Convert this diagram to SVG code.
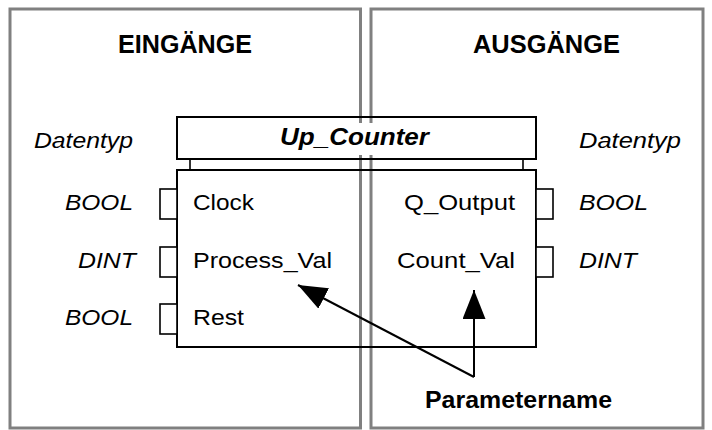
<svg xmlns="http://www.w3.org/2000/svg" width="712" height="430" viewBox="0 0 712 430">
  <style>
    .panel { fill: none; stroke: #808080; stroke-width: 3; }
    .box { fill: none; stroke: #000; stroke-width: 2; }
    .pin { fill: #fff; stroke: #000; stroke-width: 1.6; }
    .tick { stroke: #000; stroke-width: 1.6; }
    text { font-family: "Liberation Sans", Arial, Helvetica, sans-serif; fill: #000; }
    .head { font-size: 25px; font-weight: bold; }
    .type { font-size: 22.5px; font-style: italic; }
    .param { font-size: 22.5px; }
    .title { font-size: 24px; font-weight: bold; font-style: italic; }
    .label { font-size: 23px; font-weight: bold; }
    .conn { fill: none; stroke: #000; stroke-width: 2; }
  </style>
  <defs>
    <marker id="arr" markerUnits="userSpaceOnUse" markerWidth="30" markerHeight="24" refX="29" refY="11.5" orient="auto" viewBox="0 0 30 24">
      <path d="M0,0 L29,11.5 L0,23 Z" fill="#000"/>
    </marker>
  </defs>

  <rect width="712" height="430" fill="#fff"/>

  <g id="panel-inputs">
    <rect class="panel" x="10" y="9" width="350.5" height="419"/>
    <text class="head" x="185" y="52.5" text-anchor="middle" textLength="134" lengthAdjust="spacingAndGlyphs">EINGÄNGE</text>
    <text class="type" x="34" y="147.5" textLength="99" lengthAdjust="spacingAndGlyphs">Datentyp</text>
  </g>

  <g id="panel-outputs">
    <rect class="panel" x="371" y="9" width="332" height="419"/>
    <text class="head" x="546.5" y="52.5" text-anchor="middle" textLength="147" lengthAdjust="spacingAndGlyphs">AUSGÄNGE</text>
    <text class="type" x="579" y="147.5" textLength="102" lengthAdjust="spacingAndGlyphs">Datentyp</text>
  </g>

  <g id="fb-title">
    <rect class="box" x="177" y="117" width="359" height="42"/>
    <rect x="278" y="123" width="153" height="32" fill="#fff"/>
    <text class="title" x="280" y="145" textLength="149" lengthAdjust="spacingAndGlyphs">Up_Counter</text>
    <line class="tick" x1="190" y1="159" x2="190" y2="170"/>
    <line class="tick" x1="523" y1="159" x2="523" y2="170"/>
  </g>

  <g id="fb-body">
    <rect class="box" x="177" y="170" width="359" height="177"/>
  </g>

  <g id="in-clock">
    <rect class="pin" x="160" y="189" width="17" height="30"/>
    <text class="type" x="133" y="209.5" text-anchor="end" textLength="68" lengthAdjust="spacingAndGlyphs">BOOL</text>
    <text class="param" x="193" y="209.5" textLength="61" lengthAdjust="spacingAndGlyphs">Clock</text>
  </g>
  <g id="in-process-val">
    <rect class="pin" x="160" y="247" width="17" height="30"/>
    <text class="type" x="136" y="267.5" text-anchor="end" textLength="58" lengthAdjust="spacingAndGlyphs">DINT</text>
    <text class="param" x="193" y="267.5" textLength="139" lengthAdjust="spacingAndGlyphs">Process_Val</text>
  </g>
  <g id="in-rest">
    <rect class="pin" x="160" y="304" width="17" height="30"/>
    <text class="type" x="133" y="325" text-anchor="end" textLength="68" lengthAdjust="spacingAndGlyphs">BOOL</text>
    <text class="param" x="193" y="325" textLength="51" lengthAdjust="spacingAndGlyphs">Rest</text>
  </g>

  <g id="out-q-output">
    <rect class="pin" x="536" y="189" width="17" height="30"/>
    <text class="param" x="515" y="209.5" text-anchor="end" textLength="111" lengthAdjust="spacingAndGlyphs">Q_Output</text>
    <text class="type" x="579" y="209.5" textLength="69" lengthAdjust="spacingAndGlyphs">BOOL</text>
  </g>
  <g id="out-count-val">
    <rect class="pin" x="536" y="247" width="17" height="30"/>
    <text class="param" x="515" y="267.5" text-anchor="end" textLength="118" lengthAdjust="spacingAndGlyphs">Count_Val</text>
    <text class="type" x="579" y="267.5" textLength="58" lengthAdjust="spacingAndGlyphs">DINT</text>
  </g>

  <g id="parametername">
    <text class="label" x="518.5" y="407.5" text-anchor="middle" textLength="187" lengthAdjust="spacingAndGlyphs">Parametername</text>
  </g>

  <g id="connectors">
    <line class="conn" x1="474" y1="377" x2="298" y2="285" marker-end="url(#arr)"/>
    <line class="conn" x1="474" y1="377" x2="474" y2="290" marker-end="url(#arr)"/>
  </g>
</svg>
